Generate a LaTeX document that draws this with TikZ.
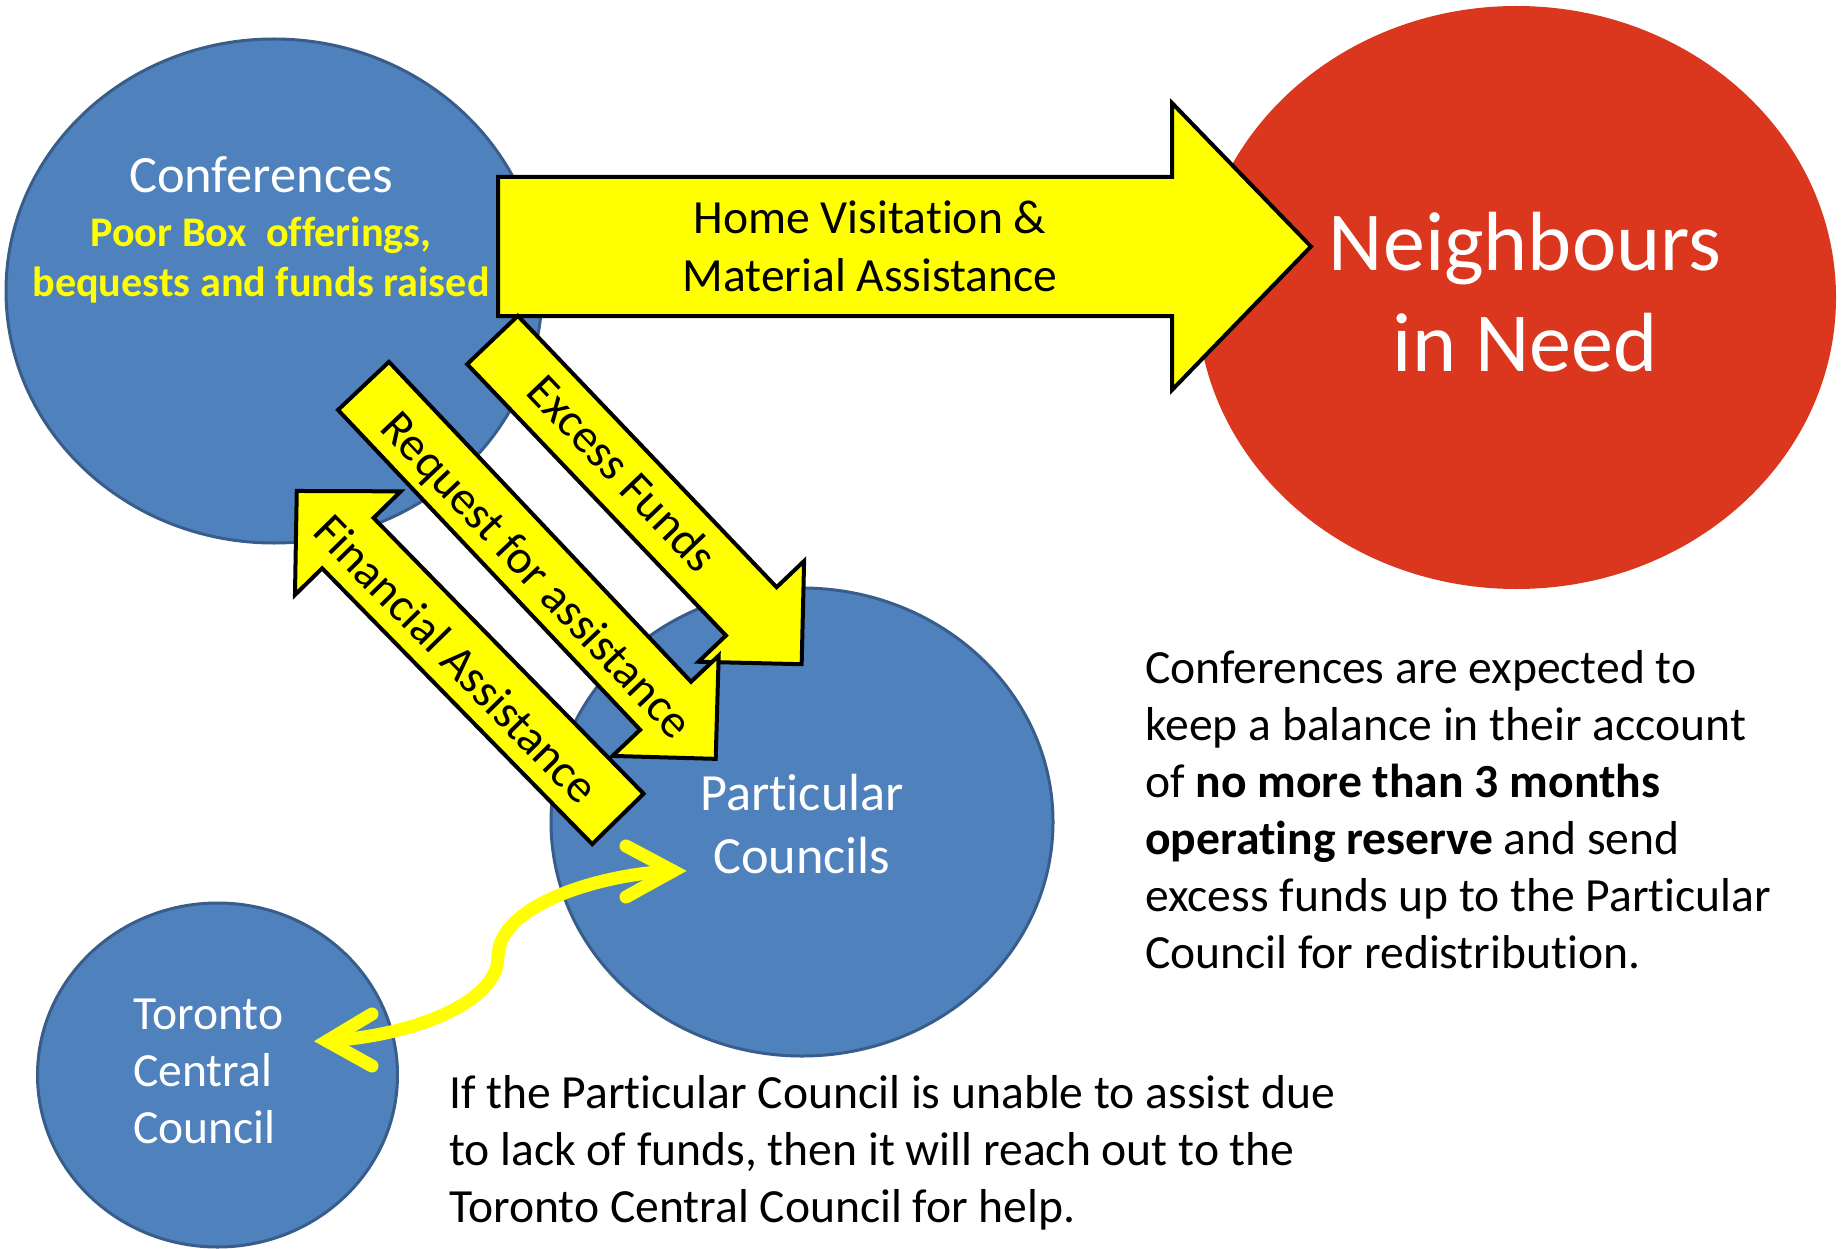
\documentclass[tikz,border=0pt]{standalone}
\usepackage{fontspec}
\setmainfont{Carlito}[Ligatures=NoCommon]
\usetikzlibrary{shapes.geometric}
\definecolor{cblue}{RGB}{79,129,189}
\definecolor{cblueb}{RGB}{56,93,138}
\definecolor{cred}{RGB}{219,54,30}
\definecolor{cyel}{RGB}{255,255,0}
\newcommand\fsz[2]{\fontsize{#1}{#2}\selectfont}
\begin{document}
\begin{tikzpicture}[x=1pt,y=-1pt,
  bubble/.style={ellipse, draw=cblueb, line width=3pt, fill=cblue, inner sep=0pt},
  redbubble/.style={ellipse, fill=cred, inner sep=0pt},
  blockarr/.style={draw=black, line width=4pt, fill=cyel, line join=miter},
  curv/.style={draw=cyel, line width=13pt, line cap=round, line join=miter},
  wt/.style={text=white, inner sep=0pt, anchor=base},
  wtl/.style={text=white, inner sep=0pt, anchor=base west},
  yt/.style={text=cyel, inner sep=0pt, anchor=base, font=\fsz{42.2}{50}\bfseries},
  bt/.style={text=black, inner sep=0pt, anchor=base},
  btl/.style={text=black, inner sep=0pt, anchor=base west, font=\fsz{47.6}{57}},
  rt/.style={text=black, inner sep=0pt, anchor=center, font=\fsz{47.6}{57}}]
\useasboundingbox (0,0) rectangle (1843,1249);
\fill[white] (0,0) rectangle (1843,1249);

% bubbles
\node[bubble, minimum width=360pt, minimum height=344pt] (tcc) at (217.5,1075) {};
\node[bubble, minimum width=536pt, minimum height=504pt] (conf) at (274,291) {};
\node[redbubble, minimum width=639pt, minimum height=583pt] (nin) at (1516.5,297.5) {};
\node[bubble, minimum width=502pt, minimum height=468pt] (pc) at (802,822) {};

% bubble texts
\node[wt, font=\fsz{52.5}{60}] (conft) at (261,193) {Conferences};
\node[yt] (pb1) at (261,246.4) {Poor Box\ \ offerings,};
\node[yt] (pb2) at (261,296.4) {bequests and funds raised};
\node[wt, font=\fsz{84}{100}] (nin1) at (1525,270) {Neighbours};
\node[wt, font=\fsz{84}{100}] (nin2) at (1525,371) {in Need};
\node[wt, font=\fsz{52.3}{60}] (pc1) at (802,810) {Particular};
\node[wt, font=\fsz{52.3}{60}] (pc2) at (802,873) {Councils};
\node[wtl, font=\fsz{47.6}{57}] (tc1) at (133,1029) {Toronto};
\node[wtl, font=\fsz{47.6}{57}] (tc2) at (133,1086) {Central};
\node[wtl, font=\fsz{47.6}{57}] (tc3) at (133,1143) {Council};

% home visitation arrow
\draw[blockarr] (498,177) -- (1172,177) -- (1172,103) -- (1311,246.5)
  -- (1172,390) -- (1172,316) -- (498,316) -- cycle;
\node[bt, font=\fsz{47.6}{57}] (hv1) at (870,234) {Home Visitation \&};
\node[bt, font=\fsz{47.6}{57}] (hv2) at (870,291.5) {Material Assistance};

% excess funds arrow
\begin{scope}[shift={(492.5,340)}, rotate=-46.36]
  \draw[blockarr] (0,-35) -- (375,-35) -- (375,-73) -- (448,0) -- (375,73) -- (375,35) -- (0,35) -- cycle;
\end{scope}
\node[rt, rotate=-46.36] (ef) at (623,473) {Excess Funds};

% request for assistance arrow
\begin{scope}[shift={(363.5,385.9)}, rotate=-46.64]
  \draw[blockarr] (0,-35) -- (440,-35) -- (440,-73) -- (513,0) -- (440,73) -- (440,35) -- (0,35) -- cycle;
\end{scope}
\node[rt, rotate=-46.64] (rfa) at (535,577) {Request for assistance};

% financial assistance arrow
\begin{scope}[shift={(617.9,818.9)}, rotate=134.4]
  \draw[blockarr] (0,-36) -- (386,-36) -- (386,-74) -- (459,0) -- (386,74) -- (386,36) -- (0,36) -- cycle;
\end{scope}
\node[rt, rotate=-45.6] (fa) at (456.8,658.9) {Financial Assistance};

% curved double arrow
\coordinate (ct) at (327,1041);
\coordinate (cp) at (673,871);
\draw[curv] (ct) .. controls (420,1035) and (498,1000) .. (498,957)
  .. controls (498,905) and (600,874) .. (cp);
\draw[curv] (372,1014) -- (ct) -- (372,1066);
\draw[curv] (626,846) -- (cp) -- (626,897);

% right text
\node[btl] (r1) at (1145,683) {Conferences are expected to};
\node[btl] (r2) at (1145,740) {keep a balance in their account};
\node[btl] (r3) at (1145,797) {of \textbf{no more than 3 months}};
\node[btl] (r4) at (1145,854) {\textbf{operating reserve} and send};
\node[btl] (r5) at (1145,911) {excess funds up to the Particular};
\node[btl] (r6) at (1145,968) {Council for redistribution.};

% bottom text
\node[btl] (b1) at (449,1108.5) {If the Particular Council is unable to assist due};
\node[btl] (b2) at (449,1165.5) {to lack of funds, then it will reach out to the};
\node[btl] (b3) at (449,1222) {Toronto Central Council for help.};
\end{tikzpicture}
\end{document}
